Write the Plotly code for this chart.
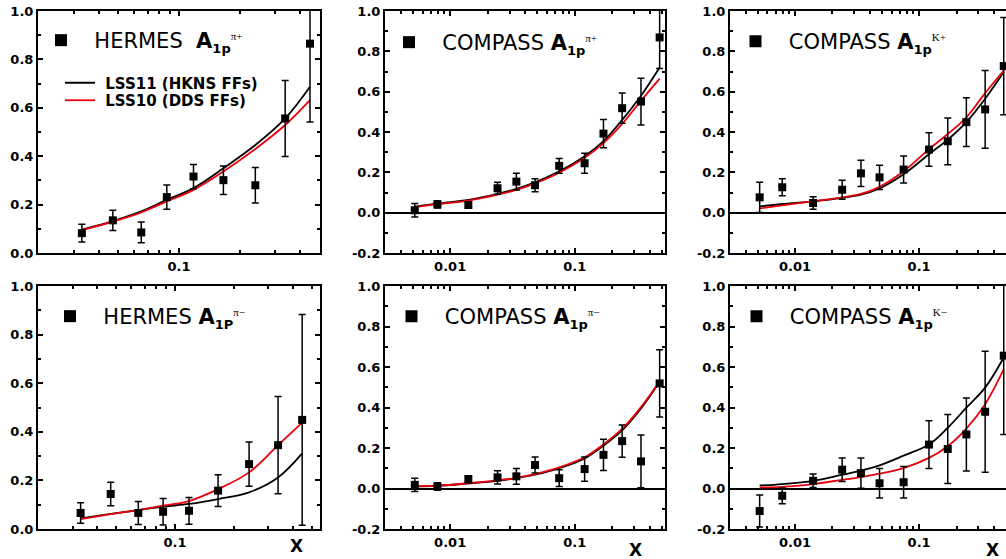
import math
import plotly.graph_objects as go

# ---------------- data ----------------
x_hermes_pp = [0.033, 0.047, 0.065, 0.087, 0.118, 0.166, 0.239, 0.336, 0.446]
x_hermes_pm = [0.033, 0.047, 0.065, 0.087, 0.118, 0.166, 0.239, 0.336, 0.446]
x_compass = [0.0052, 0.0079, 0.014, 0.024, 0.034, 0.048, 0.075, 0.12, 0.17, 0.24, 0.34, 0.48]

hermes_pip_y = [0.082, 0.135, 0.085, 0.231, 0.316, 0.301, 0.280, 0.556, 0.865]
hermes_pip_err = [0.037, 0.042, 0.043, 0.050, 0.050, 0.059, 0.073, 0.157, 0.324]
hermes_pip_lss11 = [0.097, 0.132, 0.172, 0.220, 0.268, 0.350, 0.446, 0.556, 0.687]
hermes_pip_lss10 = [0.095, 0.130, 0.168, 0.213, 0.261, 0.337, 0.430, 0.529, 0.632]

compass_pip_y = [0.012, 0.041, 0.038, 0.121, 0.154, 0.136, 0.232, 0.245, 0.392, 0.518, 0.551, 0.869]
compass_pip_err = [0.033, 0.018, 0.012, 0.030, 0.041, 0.032, 0.037, 0.050, 0.070, 0.075, 0.116, 0.154]
compass_pip_lss11 = [0.030, 0.045, 0.063, 0.093, 0.118, 0.150, 0.205, 0.280, 0.355, 0.460, 0.580, 0.720]
compass_pip_lss10 = [0.028, 0.042, 0.060, 0.089, 0.113, 0.145, 0.198, 0.272, 0.345, 0.440, 0.555, 0.665]

compass_kp_y = [0.076, 0.126, 0.048, 0.114, 0.195, 0.175, 0.214, 0.313, 0.354, 0.449, 0.512, 0.727]
compass_kp_err = [0.075, 0.042, 0.031, 0.047, 0.065, 0.060, 0.067, 0.083, 0.116, 0.121, 0.193, 0.241]
compass_kp_lss11 = [0.031, 0.043, 0.056, 0.073, 0.089, 0.120, 0.190, 0.290, 0.362, 0.449, 0.565, 0.697]
compass_kp_lss10 = [0.021, 0.036, 0.056, 0.076, 0.093, 0.128, 0.205, 0.315, 0.390, 0.473, 0.593, 0.705]

hermes_pim_y = [0.066, 0.144, 0.066, 0.071, 0.075, 0.158, 0.267, 0.345, 0.449]
hermes_pim_err = [0.042, 0.048, 0.047, 0.055, 0.055, 0.065, 0.091, 0.200, 0.434]
hermes_pim_lss11 = [0.044, 0.062, 0.078, 0.092, 0.103, 0.123, 0.151, 0.212, 0.311]
hermes_pim_lss10 = [0.041, 0.061, 0.078, 0.096, 0.115, 0.164, 0.233, 0.345, 0.438]

compass_pim_y = [0.018, 0.010, 0.046, 0.055, 0.060, 0.116, 0.051, 0.096, 0.166, 0.234, 0.134, 0.519]
compass_pim_err = [0.033, 0.019, 0.017, 0.033, 0.039, 0.039, 0.041, 0.060, 0.077, 0.080, 0.130, 0.166]
compass_pim_lss11 = [0.010, 0.013, 0.025, 0.038, 0.051, 0.068, 0.100, 0.149, 0.212, 0.287, 0.395, 0.527]
compass_pim_lss10 = [0.011, 0.014, 0.026, 0.040, 0.053, 0.071, 0.104, 0.154, 0.218, 0.294, 0.402, 0.530]

compass_km_y = [-0.111, -0.036, 0.038, 0.093, 0.076, 0.026, 0.031, 0.217, 0.195, 0.267, 0.379, 0.656]
compass_km_err = [0.079, 0.039, 0.033, 0.058, 0.075, 0.073, 0.078, 0.118, 0.170, 0.180, 0.299, 0.389]
compass_km_lss11 = [0.015, 0.022, 0.038, 0.068, 0.088, 0.114, 0.162, 0.217, 0.300, 0.399, 0.498, 0.647]
compass_km_lss10 = [0.005, 0.008, 0.022, 0.043, 0.056, 0.073, 0.101, 0.151, 0.209, 0.296, 0.416, 0.589]

SUB = "<sub><span style='font-size:13px'>%s</span></sub>"
SUP = "<sup><span style='font-family:Liberation Serif;font-size:11px'>%s</span></sup>"
NB = "\u00a0\u00a0"
panel_titles = [
    NB + "HERMES \u00a0<b>A" + SUB % "1p" + "</b>" + SUP % "\u03c0+",
    NB + "COMPASS <b>A" + SUB % "1p" + "</b>" + SUP % "\u03c0+",
    NB + "COMPASS <b>A" + SUB % "1p" + "</b>" + SUP % "K+",
    NB + "HERMES <b>A" + SUB % "1P" + "</b>" + SUP % "\u03c0\u2212",
    NB + "COMPASS <b>A" + SUB % "1p" + "</b>" + SUP % "\u03c0\u2212",
    NB + "COMPASS <b>A" + SUB % "1p" + "</b>" + SUP % "K\u2212",
]
line_names = ["\u00a0LSS11 (HKNS FFs)", "\u00a0LSS10 (DDS FFs)"]
y_ticks_hermes = [0.0, 0.2, 0.4, 0.6, 0.8, 1.0]
y_ticks_compass = [-0.2, 0.0, 0.2, 0.4, 0.6, 0.8, 1.0]

panels = [
    (x_hermes_pp, hermes_pip_y, hermes_pip_err, hermes_pip_lss11, hermes_pip_lss10),
    (x_compass, compass_pip_y, compass_pip_err, compass_pip_lss11, compass_pip_lss10),
    (x_compass, compass_kp_y, compass_kp_err, compass_kp_lss11, compass_kp_lss10),
    (x_hermes_pm, hermes_pim_y, hermes_pim_err, hermes_pim_lss11, hermes_pim_lss10),
    (x_compass, compass_pim_y, compass_pim_err, compass_pim_lss11, compass_pim_lss10),
    (x_compass, compass_km_y, compass_km_err, compass_km_lss11, compass_km_lss10),
]

# ---------------- layout geometry (pixels) ----------------
W, H = 1006, 559
col_px = [(38, 320), (385, 665), (730, 1006)]
row_px = [(11, 253), (286, 529)]
x_ranges = [
    (0.02, 0.5), (0.003, 0.53), (0.003, 10 ** (math.log10(0.003) + 276 / 124.2)),
    (0.02, 0.55), (0.003, 0.53), (0.003, 10 ** (math.log10(0.003) + 276 / 124.2)),
]

fig = go.Figure()
FONT = "DejaVu Sans"
tickfont = dict(family=FONT, size=13, color="black", weight="bold")

for i, (xs, ys, errs, l11, l10) in enumerate(panels):
    r, c = divmod(i, 3)
    ax = "" if i == 0 else str(i + 1)
    xref, yref = "x" + ax, "y" + ax
    is_compass = c > 0
    fig.add_trace(go.Scatter(
        x=xs, y=l11, mode="lines", line=dict(color="black", width=1.8, shape="spline"),
        name=line_names[0], xaxis=xref, yaxis=yref, showlegend=(i == 0),
        legend="legend"))
    fig.add_trace(go.Scatter(
        x=xs, y=l10, mode="lines", line=dict(color="#e8000b", width=1.8, shape="spline"),
        name=line_names[1], xaxis=xref, yaxis=yref, showlegend=(i == 0),
        legend="legend8"))
    fig.add_trace(go.Scatter(
        x=xs, y=ys, mode="markers",
        marker=dict(symbol="square", size=8, color="black"),
        error_y=dict(type="data", array=errs, visible=True, color="black",
                     thickness=1.5, width=3.5),
        name=panel_titles[i], xaxis=xref, yaxis=yref, showlegend=True,
        legend="legend" + str(i + 2)))

    x0, x1 = col_px[c]
    y0, y1 = row_px[r]
    lo, hi = x_ranges[i]
    xaxis = dict(
        type="log", range=[math.log10(lo), math.log10(hi)],
        domain=[x0 / W, x1 / W], anchor=yref,
        showline=True, linecolor="black", linewidth=2, mirror="ticks",
        ticks="inside", ticklen=5, tickwidth=1.5, tickcolor="black",
        dtick=1, showgrid=False, zeroline=False, tickfont=tickfont,
        minor=dict(ticks="inside", ticklen=3, tickwidth=1.5, tickcolor="black",
                   dtick="D1", showgrid=False),
    )
    yt = y_ticks_compass if is_compass else y_ticks_hermes
    yaxis = dict(
        range=[-0.2, 1.0] if is_compass else [0.0, 1.0],
        domain=[1 - y1 / H, 1 - y0 / H], anchor=xref,
        showline=True, linecolor="black", linewidth=2,
        mirror=False if c == 2 else "ticks",
        ticks="inside", ticklen=5, tickwidth=1.5, tickcolor="black",
        tickmode="array", tickvals=yt, ticktext=["%.1f" % v for v in yt],
        showgrid=False, tickfont=tickfont,
        zeroline=is_compass, zerolinecolor="black", zerolinewidth=1.5,
        minor=dict(ticks="inside", ticklen=3, tickwidth=1.5, tickcolor="black",
                   tickmode="linear", tick0=0, dtick=0.1, showgrid=False),
    )
    fig.layout["xaxis" + ax] = xaxis
    fig.layout["yaxis" + ax] = yaxis

# legends: panel titles (marker squares) and model curves
title_pos = [(41, 20), (389, 22), (735.5, 21), (50, 296), (391.5, 296), (736.5, 296)]
legends = {}
for i, (lx, ly) in enumerate(title_pos):
    legends["legend" + str(i + 2)] = dict(
        x=lx / W, y=1 - ly / H, xanchor="left", yanchor="top",
        bgcolor="rgba(0,0,0,0)", borderwidth=0, itemsizing="constant",
        font=dict(family=FONT, size=21, color="black"))
legends["legend"] = dict(
    x=60 / W, y=1 - 66.5 / H, xanchor="left", yanchor="top",
    bgcolor="rgba(0,0,0,0)", borderwidth=0, itemsizing="trace",
    font=dict(family=FONT, size=15, color="black", weight="bold"))
legends["legend8"] = dict(
    x=60 / W, y=1 - 84 / H, xanchor="left", yanchor="top",
    bgcolor="rgba(0,0,0,0)", borderwidth=0, itemsizing="trace",
    font=dict(family=FONT, size=15, color="black", weight="bold"))
fig.update_layout(**legends)

# "X" axis labels on the lower row
x_label_pos = [(296, 546), (635, 550), (992, 550)]
for (px, py) in x_label_pos:
    fig.add_annotation(text="<b>X</b>", x=px / W, y=1 - py / H, xref="paper", yref="paper",
                       showarrow=False, font=dict(family=FONT, size=17, color="black"),
                       xanchor="center", yanchor="middle")

fig.update_layout(
    width=W, height=H, margin=dict(l=0, r=0, t=0, b=0, pad=0, autoexpand=False),
    plot_bgcolor="white", paper_bgcolor="white", showlegend=True,
)

fig.write_html("out.html", config={"displayModeBar": False},
               post_script="document.body.style.margin='0';document.body.style.overflow='hidden';")
